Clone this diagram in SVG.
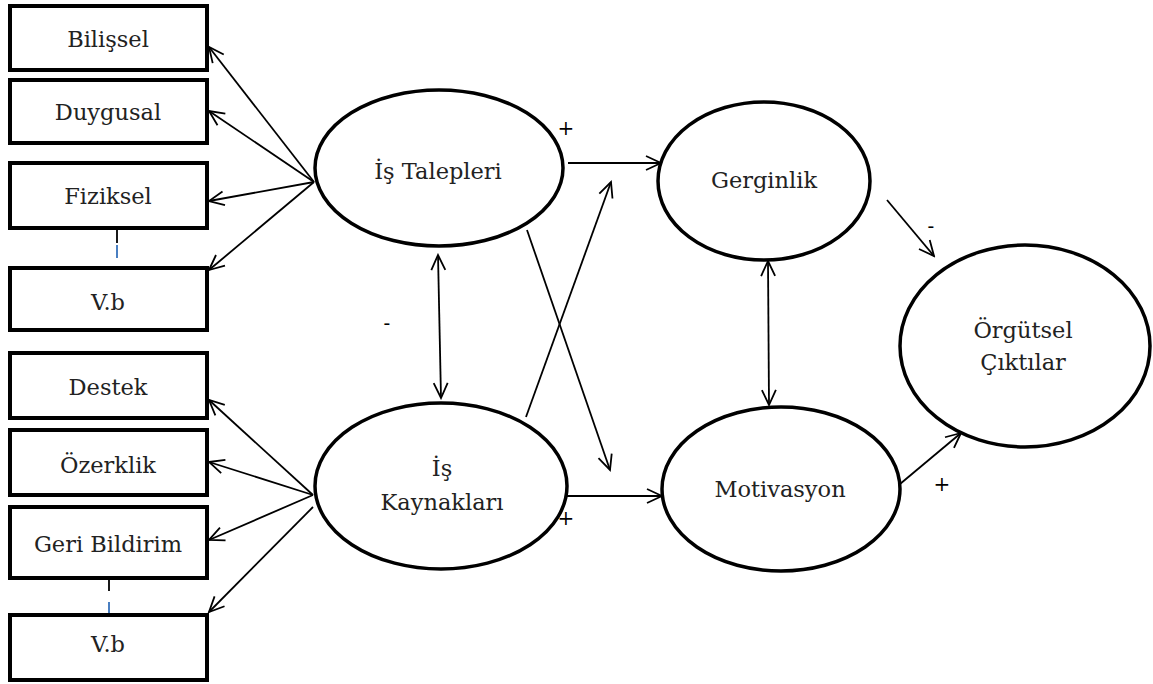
<svg xmlns="http://www.w3.org/2000/svg" width="1153" height="684" viewBox="0 0 1153 684">
<style>
.box{fill:#fff;stroke:#000;stroke-width:4}
.ell{fill:#fff;stroke:#000;stroke-width:3.5}
.t{font-family:"DejaVu Serif","Liberation Serif",serif;font-size:22.5px;fill:#222;text-anchor:middle}
.c{stroke:#000;stroke-width:1.8;fill:none}
.lbl{font-family:"DejaVu Serif","Liberation Serif",serif;font-size:20px;fill:#000;text-anchor:middle}
</style>
<defs>
<marker id="ah" viewBox="0 0 20 20" refX="18" refY="10" markerWidth="20" markerHeight="20" markerUnits="userSpaceOnUse" orient="auto-start-reverse">
<path d="M3,3 L18,10 L3,17" fill="none" stroke="#000" stroke-width="1.8"/>
</marker>
</defs>
<rect width="1153" height="684" fill="#fff"/>
<g id="connectors">
<line class="c" x1="314" y1="182" x2="209" y2="47" marker-end="url(#ah)"/>
<line class="c" x1="314" y1="182" x2="209" y2="111" marker-end="url(#ah)"/>
<line class="c" x1="314" y1="182" x2="209" y2="201" marker-end="url(#ah)"/>
<line class="c" x1="314" y1="182" x2="209" y2="270" marker-end="url(#ah)"/>
<line class="c" x1="313" y1="495" x2="209" y2="400" marker-end="url(#ah)"/>
<line class="c" x1="313" y1="495" x2="209" y2="462" marker-end="url(#ah)"/>
<line class="c" x1="313" y1="495" x2="209" y2="540" marker-end="url(#ah)"/>
<line class="c" x1="313" y1="507" x2="209" y2="612" marker-end="url(#ah)"/>
<line class="c" x1="117" y1="229" x2="117" y2="243"/>
<line x1="117" y1="245" x2="117" y2="258" stroke="#4a7fc1" stroke-width="2"/>
<line class="c" x1="109" y1="579" x2="109" y2="591"/>
<line x1="109" y1="602" x2="109" y2="614" stroke="#4a7fc1" stroke-width="2"/>
<line class="c" x1="568" y1="163" x2="661" y2="163" marker-end="url(#ah)"/>
<line class="c" x1="527" y1="230" x2="610" y2="470" marker-end="url(#ah)"/>
<line class="c" x1="526" y1="417" x2="611" y2="182" marker-end="url(#ah)"/>
<line class="c" x1="567" y1="496" x2="662" y2="496" marker-end="url(#ah)"/>
<line class="c" x1="438" y1="255" x2="441" y2="398" marker-start="url(#ah)" marker-end="url(#ah)"/>
<line class="c" x1="768" y1="261" x2="769" y2="405" marker-start="url(#ah)" marker-end="url(#ah)"/>
<line class="c" x1="887" y1="200" x2="934" y2="256" marker-end="url(#ah)"/>
<line class="c" x1="900" y1="484" x2="961" y2="433" marker-end="url(#ah)"/>
<text class="lbl" x="566" y="135">+</text>
<text class="lbl" x="387" y="330">-</text>
<text class="lbl" x="566" y="525">+</text>
<text class="lbl" x="931" y="233">-</text>
<text class="lbl" x="942" y="491">+</text>
</g>
<g id="bilissel"><rect class="box" x="10" y="6" width="197" height="64"/><text class="t" x="108" y="47">Bilişsel</text></g>
<g id="duygusal"><rect class="box" x="10" y="80" width="197" height="63"/><text class="t" x="108" y="120">Duygusal</text></g>
<g id="fiziksel"><rect class="box" x="10" y="163" width="197" height="65"/><text class="t" x="108" y="204">Fiziksel</text></g>
<g id="vb1"><rect class="box" x="10" y="268" width="197" height="62"/><text class="t" x="108" y="310">V.b</text></g>
<g id="destek"><rect class="box" x="10" y="353" width="197" height="65"/><text class="t" x="108" y="395">Destek</text></g>
<g id="ozerklik"><rect class="box" x="10" y="430" width="197" height="65"/><text class="t" x="108" y="473">Özerklik</text></g>
<g id="geribildirim"><rect class="box" x="10" y="507" width="197" height="71"/><text class="t" x="108" y="552">Geri Bildirim</text></g>
<g id="vb2"><rect class="box" x="10" y="615" width="197" height="65"/><text class="t" x="108" y="652">V.b</text></g>
<g id="is-talepleri"><ellipse class="ell" cx="439" cy="168" rx="124" ry="78"/><text class="t" x="438" y="179">İş Talepleri</text></g>
<g id="is-kaynaklari"><ellipse class="ell" cx="441" cy="486" rx="126" ry="83"/><text class="t" x="442" y="476">İş</text><text class="t" x="442" y="510">Kaynakları</text></g>
<g id="gerginlik"><ellipse class="ell" cx="764" cy="181" rx="106" ry="79"/><text class="t" x="764" y="188">Gerginlik</text></g>
<g id="motivasyon"><ellipse class="ell" cx="781" cy="489" rx="119" ry="82"/><text class="t" x="780" y="497">Motivasyon</text></g>
<g id="orgutsel"><ellipse class="ell" cx="1025" cy="346" rx="125" ry="101"/><text class="t" x="1023" y="338">Örgütsel</text><text class="t" x="1023" y="370">Çıktılar</text></g>
</svg>
